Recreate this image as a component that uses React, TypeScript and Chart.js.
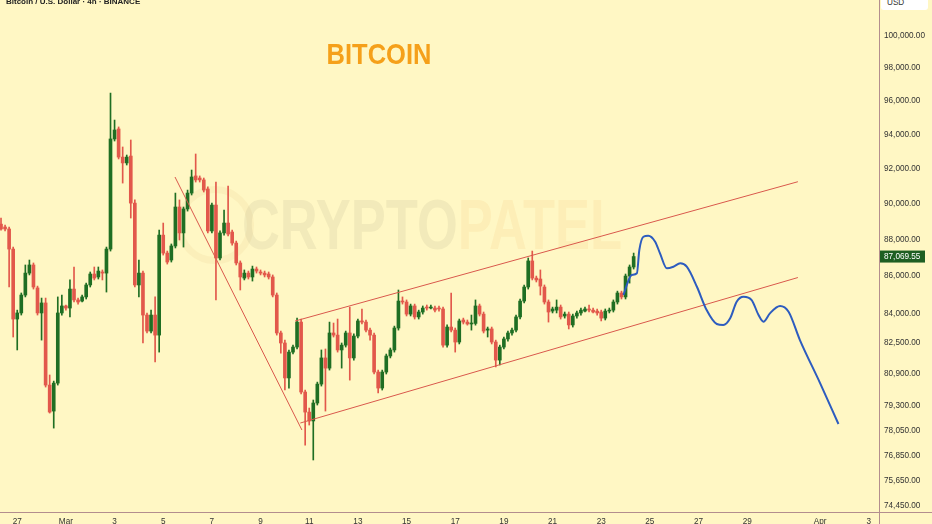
import React, { useEffect, useRef } from "react";
import { Chart, registerables } from "chart.js";

Chart.register(...registerables);

// 4h candles, index 0 = Feb 26 08:00, index 16 = Mar 1 00:00
const opens = [
  88860, 88700, 88590, 87480, 83720, 84040, 84990, 86170, 86610, 85370,
  84040, 84570, 80320, 79020, 80420, 84040, 84410, 84300, 85310, 84730,
  84670, 84890, 85530, 86120, 85960, 86230, 86170, 87480, 93740, 94330,
  92680, 92340, 92740, 90040, 85530, 86170, 83930, 83090, 83930, 82880,
  88250, 87260, 86880, 87650, 89820, 88370, 89710, 90610, 91590, 91470,
  91360, 90840, 88480, 89930, 86990, 88370, 88920, 88420, 87810, 86720,
  85900, 86170, 85960, 86390, 86230, 86170, 86120, 85960, 84990, 82990,
  82470, 80680, 82000, 82260, 83560, 79970, 78970, 78530, 79420, 80370,
  81700, 81180, 82990, 82880, 82110, 82360, 82990, 81700, 82830, 83620,
  83560, 83140, 82880, 80980, 80170, 80980, 81800, 82110, 83250, 84670,
  84620, 83980, 84410, 83830, 84090, 84350, 84300, 84300, 84300, 84250,
  82360, 83300, 83140, 82520, 83670, 83560, 83460, 83490, 84410, 83980,
  83140, 83200, 82520, 81590, 82260, 82680, 82990, 83140, 83830, 84670,
  85420, 86830, 85900, 85850, 85420, 84620, 84140, 84190, 84350, 83880,
  83980, 83410, 83880, 84040, 84140, 84250, 84190, 84140, 84090, 83770,
  84140, 84190, 84620, 85100, 84890, 86010, 86500,
];
const highs = [
  89200, 88810, 88700, 87590, 84190, 85100, 86610, 86880, 86720, 85470,
  84830, 84830, 80830, 80520, 84890, 84990, 84460, 85800, 86500, 84830,
  84990, 85630, 86230, 86500, 86500, 86340, 87590, 96480, 94860, 94450,
  93270, 92800, 93680, 90220, 86880, 86280, 84040, 84190, 84890, 88530,
  88920, 87370, 87760, 90610, 90220, 89820, 90780, 91930, 92860, 91590,
  91470, 90960, 90040, 91240, 88480, 89650, 91010, 88530, 87920, 86830,
  86340, 86280, 86550, 86500, 86340, 86280, 86230, 86070, 85100, 83090,
  82620, 82110, 82360, 83770, 83720, 80070, 79170, 79570, 80470, 82110,
  82160, 83560, 83510, 83720, 82470, 83090, 84350, 82940, 83720, 84250,
  83670, 83250, 82990, 81080, 81080, 81900, 82210, 83350, 85260, 84890,
  84730, 84510, 84510, 84190, 84410, 84460, 84460, 84410, 84410, 84350,
  83410, 85100, 83250, 83720, 83770, 83670, 83930, 84730, 84510, 84090,
  83300, 83300, 82620, 82360, 82780, 83090, 83250, 83930, 84780, 85530,
  86990, 87370, 86010, 86340, 85530, 84730, 84350, 84730, 84460, 84090,
  84090, 83980, 84140, 84300, 84350, 84460, 84300, 84250, 84190, 84250,
  84300, 84730, 85200, 85200, 86120, 86610, 87260,
];
const lows = [
  88530, 88480, 85420, 82780, 82110, 83930, 84890, 86070, 85310, 83930,
  82620, 80220, 78920, 78180, 80320, 83930, 84190, 83830, 84620, 84510,
  84620, 84780, 85420, 85800, 85850, 85800, 85150, 87370, 93620, 92570,
  91180, 92220, 89200, 85420, 84890, 82470, 82990, 82990, 81490, 82000,
  87150, 86660, 86770, 87540, 87980, 87590, 89590, 90500, 91240, 91240,
  90670, 88370, 88370, 84730, 86880, 88250, 88200, 87700, 86610, 85260,
  85800, 85850, 85740, 86170, 86070, 85960, 85850, 84890, 82880, 81950,
  80070, 80170, 81900, 82160, 79870, 77350, 78330, 76630, 79320, 80270,
  79020, 81080, 82780, 82000, 81180, 82260, 80570, 81590, 82730, 83460,
  83040, 82620, 80880, 79920, 80070, 80880, 81700, 82000, 83140, 84510,
  83880, 83880, 83720, 83720, 83980, 84190, 84250, 84090, 84140, 82260,
  82260, 83040, 82000, 82420, 83460, 83400, 83140, 83400, 83880, 82990,
  82780, 82420, 81240, 81340, 82160, 82570, 82880, 83040, 83720, 84570,
  85310, 85800, 85690, 84990, 84510, 83560, 84040, 84040, 83720, 83770,
  83200, 83300, 83770, 83930, 84090, 84090, 84040, 83930, 83620, 83670,
  84040, 84090, 84510, 84780, 84780, 85630, 86390,
];
const closes = [
  88590, 88590, 87480, 83720, 84040, 84990, 86170, 86610, 85420, 84040,
  84570, 80320, 78970, 80420, 84040, 84410, 84300, 85310, 84730, 84620,
  84890, 85530, 86120, 85900, 86280, 86170, 87480, 93740, 94270, 92680,
  92340, 92680, 90040, 85530, 86170, 83930, 83090, 83930, 82880, 88250,
  87260, 86770, 87650, 89820, 88370, 89710, 90610, 91530, 91360, 91360,
  90780, 88480, 89930, 86990, 88370, 88920, 88310, 87810, 86720, 85960,
  86170, 85960, 86390, 86280, 86170, 86070, 85960, 84990, 82990, 82470,
  80680, 82000, 82260, 83560, 79970, 78970, 78530, 79420, 80370, 81700,
  81180, 82990, 82880, 82110, 82360, 82990, 81700, 82830, 83620, 83560,
  83140, 82880, 80980, 80170, 80980, 81800, 82110, 83250, 84670, 84620,
  83980, 84410, 83830, 84090, 84300, 84300, 84350, 84190, 84250, 82360,
  83300, 83140, 82520, 83620, 83560, 83460, 83490, 84410, 83980, 83090,
  83200, 82520, 81590, 82260, 82680, 82990, 83140, 83830, 84670, 85420,
  86830, 85900, 85800, 85470, 84620, 84090, 84250, 84350, 83830, 83980,
  83410, 83880, 84040, 84190, 84250, 84190, 84090, 84040, 83770, 84140,
  84190, 84620, 85100, 84890, 86010, 86500, 87069.55,
];

// drawn lines (x in 4h-candle units, y in USD)
const descX = [42.9, 74.2];
const descY = [91528, 78085];
const upperX = [72.5, 196.5];
const upperY = [83615, 91258];
const lowerX = [73.8, 196.5];
const lowerY = [78429, 85930];
const projX = [153.5, 154.3, 155.5, 156.8, 157.4, 158.4, 159.6, 161.3, 162.5, 164.2, 165.8, 167.5, 169.1, 171.6, 174.0, 176.5, 178.1, 179.8, 181.4, 183.1, 185.1, 186.8, 188.0, 189.6, 192.1, 194.2, 197.0, 202.0, 206.5];
const projY = [84992, 85527, 86065, 86157, 87427, 88160, 88216, 87885, 87246, 86428, 86515, 86700, 86515, 85435, 84194, 83458, 83405, 83757, 84634, 84900, 84725, 83931, 83578, 84019, 84406, 84104, 82623, 80407, 78380];

const xTickIndex = [4, 16, 28, 40, 52, 64, 76, 88, 100, 112, 124, 136, 148, 160, 172, 184, 202, 214];
const xTickLabels = ["27", "Mar", "3", "5", "7", "9", "11", "13", "15", "17", "19", "21", "23", "25", "27", "29", "Apr", "3"];
const yTicks = [100000, 98000, 96000, 94000, 92000, 90000, 88000, 86000, 84000, 82500, 80900, 79300, 78050, 76850, 75650, 74450];

const BG = "#FFF7C4";
const GREEN = "#1F6E23";
const RED = "#E2584B";
const LINE_RED = "#D9584C";
const BLUE = "#2D5CBF";
const AXIS = "#B38E8E";
const FONT = '"Liberation Sans", Arial, sans-serif';

const fmt = (v: number) =>
  Number(v).toLocaleString("en-US", { minimumFractionDigits: 2, maximumFractionDigits: 2 });

const candleColor = (i: number) => (closes[i] >= opens[i] ? GREEN : RED);

const overlayPlugin = {
  id: "overlay",
  afterDraw(chart: any) {
    const { ctx, chartArea, scales } = chart;
    ctx.save();
    ctx.strokeStyle = AXIS;
    ctx.lineWidth = 1;
    ctx.beginPath();
    const rx = Math.round(chartArea.right) + 0.5;
    ctx.moveTo(rx, 0);
    ctx.lineTo(rx, chart.height);
    const by = Math.round(chartArea.bottom) + 0.5;
    ctx.moveTo(0, by);
    ctx.lineTo(chart.width, by);
    ctx.stroke();

    const last = closes[closes.length - 1];
    const y = scales.y.getPixelForValue(last);
    ctx.fillStyle = "#1E5F22";
    ctx.fillRect(chartArea.right + 1, y - 6, 45, 12);
    ctx.fillStyle = "#FFFFFF";
    ctx.font = `8.2px ${FONT}`;
    ctx.textBaseline = "middle";
    ctx.textAlign = "left";
    ctx.fillText(fmt(last), chartArea.right + 5, y + 0.5);
    ctx.restore();
  },
};

export default function App() {
  const canvasRef = useRef<HTMLCanvasElement | null>(null);

  useEffect(() => {
    document.body.style.margin = "0";
    const canvas = canvasRef.current;
    if (!canvas) return;
    const pts = (xs: number[], ys: number[]) => xs.map((x, i) => ({ x, y: ys[i] }));
    const redLine = (xs: number[], ys: number[]) => ({
      type: "line" as const,
      data: pts(xs, ys),
      borderColor: LINE_RED,
      borderWidth: 1,
      pointRadius: 0,
      fill: false,
      tension: 0,
    });

    const chart = new Chart(canvas, {
      type: "bar",
      data: {
        datasets: [
          {
            type: "line",
            data: pts(projX, projY),
            borderColor: BLUE,
            borderWidth: 2,
            pointRadius: 0,
            fill: false,
            cubicInterpolationMode: "monotone",
          } as any,
          redLine(upperX, upperY) as any,
          redLine(lowerX, lowerY) as any,
          redLine(descX, descY) as any,
          {
            type: "bar",
            data: opens.map((o, i) => ({ x: i, y: [o, closes[i]] })),
            backgroundColor: opens.map((_, i) => candleColor(i)),
            barThickness: 3,
            minBarLength: 1,
            grouped: false,
            borderWidth: 0,
          } as any,
          {
            type: "bar",
            data: lows.map((l, i) => ({ x: i, y: [l, highs[i]] })),
            backgroundColor: lows.map((_, i) => candleColor(i)),
            barThickness: 1,
            grouped: false,
            borderWidth: 0,
          } as any,
        ],
      },
      options: {
        responsive: false,
        animation: false,
        events: [],
        layout: { padding: 0 },
        plugins: { legend: { display: false }, tooltip: { enabled: false }, title: { display: false } },
        scales: {
          x: {
            type: "linear",
            min: -0.25,
            max: 216.5,
            offset: false,
            grid: { display: false, drawTicks: false },
            border: { display: false },
            ticks: {
              autoSkip: false,
              maxRotation: 0,
              padding: 5,
              color: "#333333",
              font: { size: 8.2, family: FONT },
              callback: (v: any) => {
                const k = xTickIndex.indexOf(Number(v));
                return k >= 0 ? xTickLabels[k] : "";
              },
            },
            afterBuildTicks: (scale: any) => {
              scale.ticks = xTickIndex.map((v) => ({ value: v }));
            },
            afterFit: (scale: any) => {
              scale.height = 12;
              scale.paddingLeft = 0;
              scale.paddingRight = 0;
            },
          },
          y: {
            type: "logarithmic",
            position: "right",
            min: 74168,
            max: 102286,
            grid: { display: false, drawTicks: false },
            border: { display: false },
            ticks: {
              padding: 5,
              color: "#333333",
              font: { size: 8.2, family: FONT },
              callback: (v: any) => fmt(Number(v)),
            },
            afterBuildTicks: (scale: any) => {
              scale.ticks = yTicks.map((v) => ({ value: v }));
            },
            afterFit: (scale: any) => {
              scale.width = 53;
              scale.paddingTop = 0;
              scale.paddingBottom = 0;
            },
          },
        },
      } as any,
      plugins: [overlayPlugin],
    });
    return () => chart.destroy();
  }, []);

  return (
    <div
      style={{
        position: "relative",
        width: 932,
        height: 524,
        background: BG,
        overflow: "hidden",
        fontFamily: FONT,
      }}
    >
      {/* faint logo ring */}
      <div
        style={{
          position: "absolute",
          left: 176,
          top: 186,
          width: 64,
          height: 64,
          borderRadius: "50%",
          border: "7px solid rgba(214,170,90,0.09)",
        }}
      />
      {/* watermark */}
      <div
        style={{
          position: "absolute",
          left: 432,
          top: 225,
          transform: "translate(-50%, -50%) scaleX(0.75)",
          fontSize: 70,
          fontWeight: 700,
          lineHeight: 1,
          whiteSpace: "nowrap",
        }}
      >
        <span style={{ color: "rgba(130,125,95,0.10)" }}>CRYPTO</span>
        <span style={{ color: "rgba(240,165,70,0.10)" }}>PATEL</span>
      </div>
      <canvas
        ref={canvasRef}
        width={932}
        height={524}
        style={{ position: "absolute", left: 0, top: 0, width: 932, height: 524 }}
      />
      <div
        style={{
          position: "absolute",
          left: 6,
          top: -3,
          fontSize: 8,
          fontWeight: 700,
          lineHeight: 1.15,
          color: "#222222",
          whiteSpace: "nowrap",
        }}
      >
        Bitcoin / U.S. Dollar · 4h · BINANCE
      </div>
      <div
        style={{
          position: "absolute",
          left: 379,
          top: 54,
          transform: "translate(-50%, -50%) scaleX(0.85)",
          fontSize: 30,
          fontWeight: 700,
          lineHeight: 1,
          color: "#F5A01A",
          whiteSpace: "nowrap",
        }}
      >
        BITCOIN
      </div>
      <div
        style={{
          position: "absolute",
          left: 881,
          top: -5,
          width: 47,
          height: 15,
          background: "#FFFFFF",
          borderRadius: 3,
          display: "flex",
          alignItems: "center",
          paddingLeft: 6,
          boxSizing: "border-box",
          fontSize: 8.2,
          color: "#333333",
        }}
      >
        USD
      </div>
    </div>
  );
}
